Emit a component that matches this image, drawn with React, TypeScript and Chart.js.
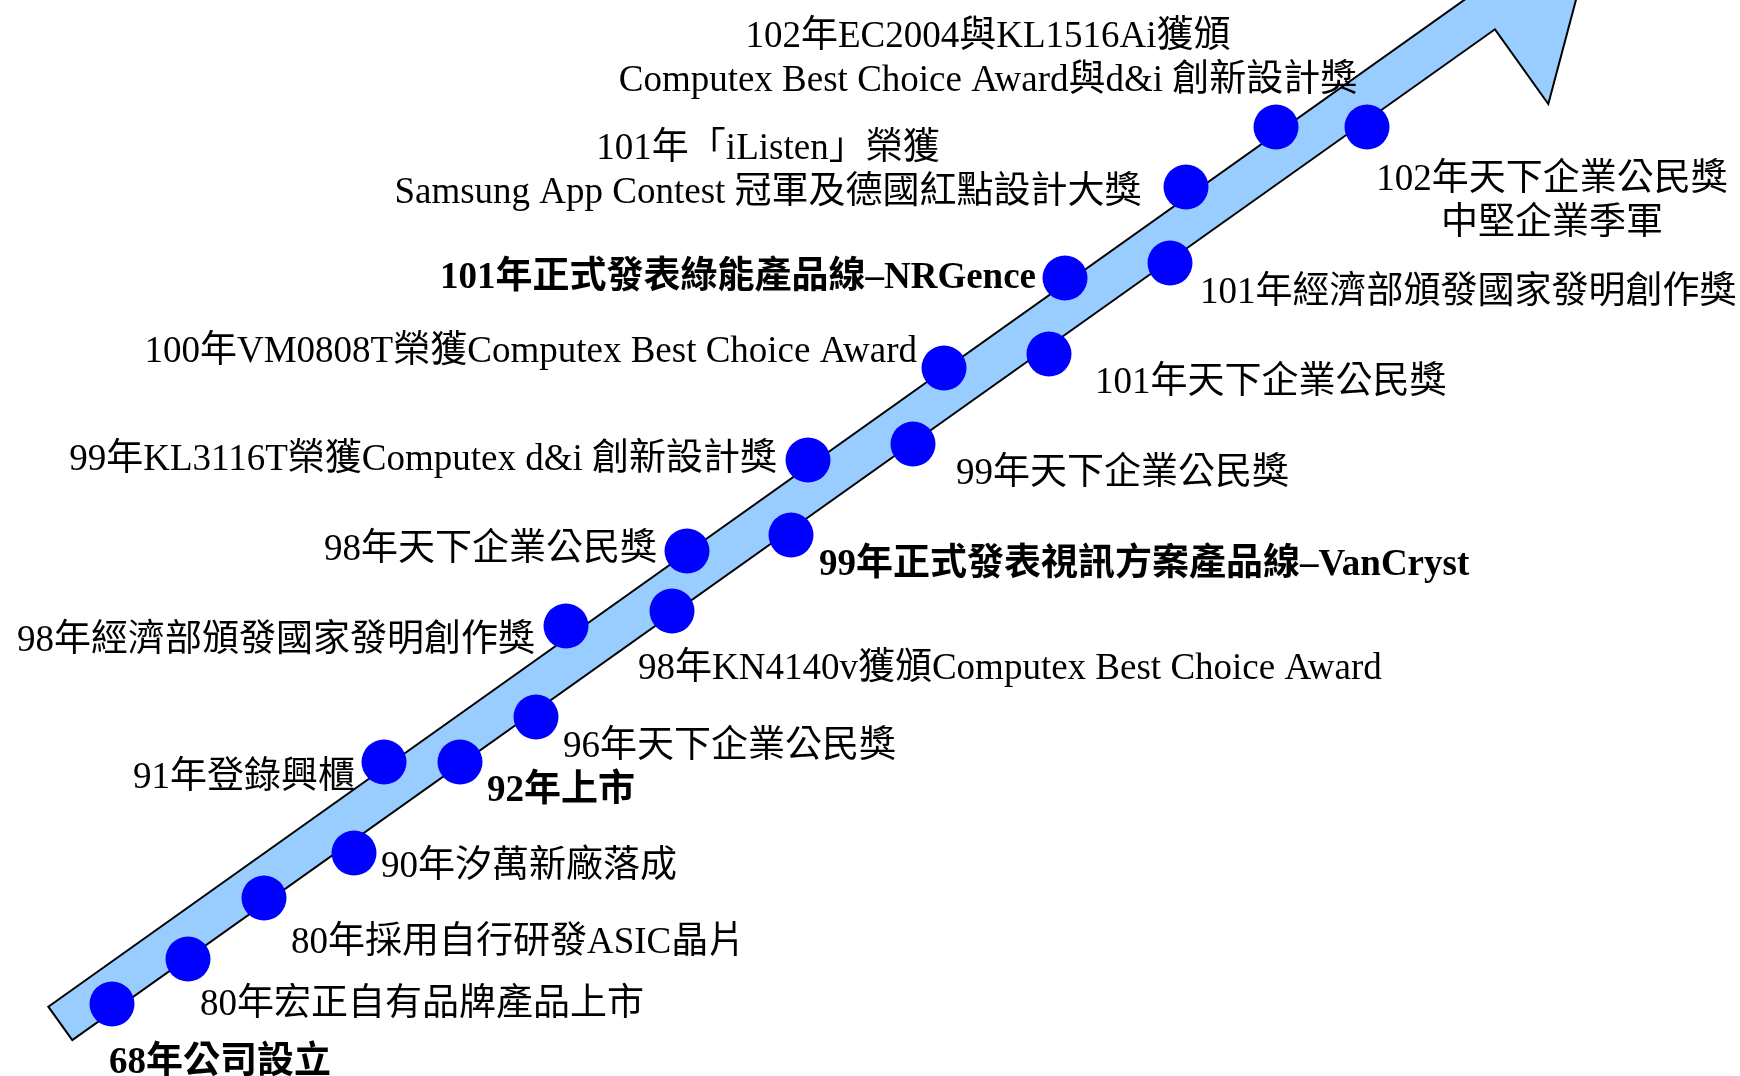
import React, { useEffect, useRef } from "react";
import { Chart, registerables } from "chart.js";

Chart.register(...registerables);

// ---- data (diagram units: x to the right, y upward) ----
const eventLabels: string[] = [
  "68年公司設立",
  "80年宏正自有品牌產品上市",
  "80年採用自行研發ASIC晶片",
  "90年汐萬新廠落成",
  "91年登錄興櫃",
  "92年上市",
  "96年天下企業公民獎",
  "98年經濟部頒發國家發明創作獎",
  "98年KN4140v獲頒Computex Best Choice Award",
  "98年天下企業公民獎",
  "99年正式發表視訊方案產品線–VanCryst",
  "99年KL3116T榮獲Computex d&i 創新設計獎",
  "99年天下企業公民獎",
  "100年VM0808T榮獲Computex Best Choice Award",
  "101年天下企業公民獎",
  "101年正式發表綠能產品線–NRGence",
  "101年經濟部頒發國家發明創作獎",
  "101年「iListen」榮獲\nSamsung App Contest 冠軍及德國紅點設計大獎",
  "102年EC2004與KL1516Ai獲頒\nComputex Best Choice Award與d&i 創新設計獎",
  "102年天下企業公民獎\n中堅企業季軍",
];

const eventX: number[] = [
  11.2, 18.8, 26.4, 35.4, 38.4, 46.0, 53.6, 56.6, 67.2, 68.7,
  79.1, 80.8, 91.3, 94.4, 104.9, 106.5, 117.0, 118.6, 127.6, 136.7,
];
const eventY: number[] = [
  7.2, 11.7, 17.8, 22.3, 31.4, 31.4, 35.9, 45.0, 46.5, 52.5,
  54.1, 61.6, 63.2, 70.8, 72.2, 79.8, 81.3, 88.9, 94.9, 94.9,
];

// arrow outline (diagram units)
const arrowX: number[] = [4.83, 160.2, 154.83, 149.5, 7.23];
const arrowY: number[] = [6.93, 117.4, 97.2, 104.67, 3.6];

// ---- label layout (pixel offsets from each dot) ----
type Place = { align: CanvasTextAlign; dx: number; dy: number };
const labelPlace: Place[] = [
  { align: "left", dx: -3, dy: 55 },
  { align: "left", dx: 12, dy: 42 },
  { align: "left", dx: 27, dy: 41 },
  { align: "left", dx: 27, dy: 10 },
  { align: "right", dx: -29, dy: 12 },
  { align: "left", dx: 27, dy: 25 },
  { align: "left", dx: 27, dy: 26 },
  { align: "right", dx: -31, dy: 11 },
  { align: "left", dx: -34, dy: 54 },
  { align: "right", dx: -30, dy: -5 },
  { align: "left", dx: 28, dy: 26 },
  { align: "right", dx: -31, dy: -4 },
  { align: "left", dx: 43, dy: 26 },
  { align: "right", dx: -27, dy: -20 },
  { align: "left", dx: 46, dy: 25 },
  { align: "right", dx: -29, dy: -4 },
  { align: "left", dx: 30, dy: 26 },
  { align: "center", dx: -418, dy: -42 },
  { align: "center", dx: -288, dy: -94 },
  { align: "center", dx: 185, dy: 49 },
];
const boldEvents = new Set<number>([0, 5, 10, 15]);

const FONT_FAMILY = '"Liberation Serif", "Times New Roman", "Noto Sans CJK TC", serif';
const FONT_SIZE = 37;
const LINE_GAP = 44;
const TEXT_SHIFT = 4;

const arrowPlugin = {
  id: "arrowPlugin",
  beforeDatasetsDraw(chart: any) {
    const { ctx, scales } = chart;
    const xs = scales.x;
    const ys = scales.y;
    ctx.save();
    ctx.beginPath();
    arrowX.forEach((v, i) => {
      const px = xs.getPixelForValue(v);
      const py = ys.getPixelForValue(arrowY[i]);
      if (i === 0) ctx.moveTo(px, py);
      else ctx.lineTo(px, py);
    });
    ctx.closePath();
    ctx.fillStyle = "#99CCFF";
    ctx.fill();
    ctx.lineWidth = 2;
    ctx.lineJoin = "miter";
    ctx.strokeStyle = "#000000";
    ctx.stroke();
    ctx.restore();
  },
};

const labelPlugin = {
  id: "labelPlugin",
  afterDatasetsDraw(chart: any) {
    const { ctx, scales } = chart;
    const xs = scales.x;
    const ys = scales.y;
    ctx.save();
    ctx.fillStyle = "#000000";
    ctx.textBaseline = "middle";
    eventLabels.forEach((text, i) => {
      const p = labelPlace[i];
      const px = xs.getPixelForValue(eventX[i]) + p.dx;
      const py = ys.getPixelForValue(eventY[i]) + p.dy + TEXT_SHIFT;
      ctx.font = `${boldEvents.has(i) ? "bold " : ""}${FONT_SIZE}px ${FONT_FAMILY}`;
      ctx.textAlign = p.align;
      text.split("\n").forEach((line, k) => {
        ctx.fillText(line, px, py + k * LINE_GAP);
      });
    });
    ctx.restore();
  },
};

export default function App() {
  const canvasRef = useRef<HTMLCanvasElement | null>(null);

  useEffect(() => {
    if (!canvasRef.current) return;
    const chart = new Chart(canvasRef.current, {
      type: "scatter",
      data: {
        datasets: [
          {
            label: "events",
            data: eventX.map((x, i) => ({ x, y: eventY[i] })),
            pointRadius: 22.5,
            pointHoverRadius: 22.5,
            pointBackgroundColor: "#0000FF",
            pointBorderWidth: 0,
            pointBorderColor: "#0000FF",
            showLine: false,
            clip: false as any,
          },
        ],
      },
      options: {
        responsive: false,
        animation: false,
        layout: { padding: 0, autoPadding: false },
        events: [],
        scales: {
          x: { type: "linear", min: 0, max: 174, display: false },
          y: { type: "linear", min: 0, max: 107.6, display: false },
        },
        plugins: {
          legend: { display: false },
          tooltip: { enabled: false },
        },
      },
      plugins: [arrowPlugin, labelPlugin],
    });
    return () => chart.destroy();
  }, []);

  return (
    <div
      style={{
        position: "fixed",
        left: 0,
        top: 0,
        width: 1740,
        height: 1076,
        background: "#ffffff",
      }}
    >
      <canvas ref={canvasRef} width={1740} height={1076} style={{ display: "block" }} />
    </div>
  );
}
